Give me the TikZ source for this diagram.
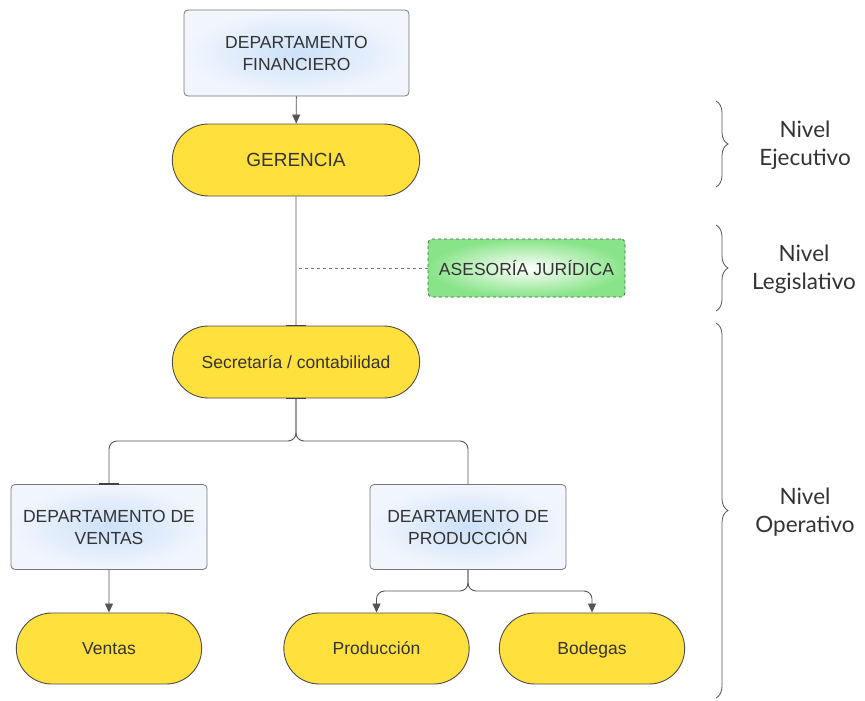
\documentclass[tikz,border=0pt]{standalone}
\usepackage{fontspec}
\setmainfont{Liberation Sans}
\newfontfamily\nivelfont{Lato}
\usetikzlibrary{arrows.meta,shapes.misc,decorations.pathreplacing}

\definecolor{linea}{HTML}{555555}
\definecolor{texto}{HTML}{333333}
\definecolor{amarillo}{HTML}{FFE03D}
\definecolor{azulin}{HTML}{CCE1FA}
\definecolor{azulout}{HTML}{F1F6FD}
\definecolor{verde}{HTML}{88E488}

\tikzset{
  dept/.style={rectangle, rounded corners=4pt, draw=linea!80, line width=.8pt,
    inner color=azulin, outer color=azulout, text=texto, align=center,
    minimum width=225pt, minimum height=86pt, font=\fontsize{17.5}{22}\selectfont},
  pill/.style={rounded rectangle, draw=linea!90!black, line width=.9pt,
    fill=amarillo, text=texto, minimum width=254pt, minimum height=72pt,
    text height=12.5pt, text depth=0pt, font=\fontsize{17.5}{20}\selectfont},
  asesor/.style={rectangle, rounded corners=4pt, draw=linea, dashed,
    line width=.8pt, inner color=white, outer color=verde, text=texto,
    minimum width=197pt, minimum height=58pt, font=\fontsize{17.5}{20}\selectfont},
  nivel/.style={align=center, text=texto, font=\nivelfont\fontsize{22.5}{28}\selectfont},
  llave/.style={draw=linea, line width=.8pt, decorate,
    decoration={brace, amplitude=12pt}},
  conn/.style={draw=linea, line width=.9pt},
  tope/.style={line width=1.6pt, linea!80!black},
}

\begin{document}
\begin{tikzpicture}[x=1pt, y=-1pt, >={Triangle[length=9pt,width=8pt]}]
\useasboundingbox (0,0) rectangle (865,701);

% cajas del organigrama
\node[dept] (fin) at (296.5,53) {DEPARTAMENTO\\FINANCIERO};
\node[pill, text height=13.6pt, font=\fontsize{19}{20}\selectfont] (ger) at (296,160) {GERENCIA};
\node[asesor] (ase) at (526.5,268) {ASESORÍA JURÍDICA};
\node[pill] (sec) at (296,362) {Secretaría / contabilidad};
\node[dept, minimum width=196pt, minimum height=85pt] (dven) at (109,527) {DEPARTAMENTO DE\\VENTAS};
\node[dept, minimum width=196pt, minimum height=85pt] (dprod) at (468,527) {DEARTAMENTO DE\\PRODUCCIÓN};
\node[pill, minimum width=192pt, minimum height=71pt] (ven) at (109,648.5) {Ventas};
\node[pill, minimum width=192pt, minimum height=71pt] (prod) at (376.5,648.5) {Producción};
\node[pill, minimum width=192pt, minimum height=71pt] (bod) at (592,648.5) {Bodegas};

% puntos de reparto
\coordinate (rep1) at (296,441);
\coordinate (rep2) at (468,591);

% conectores
\draw[conn,->] (fin) -- (ger);
\draw[conn] (ger) -- (sec);
\draw[tope] ([xshift=-10pt]sec.north) -- ([xshift=10pt]sec.north);
\draw[conn, dashed, draw=linea!80] (ase.west) -- (ase.west -| ger.south);
\draw[conn, rounded corners=8pt] (sec.south) -- (rep1) -| (dven);
\draw[conn, rounded corners=8pt] (sec.south) -- (rep1) -| (dprod);
\draw[tope] ([xshift=-10pt]sec.south) -- ([xshift=10pt]sec.south);
\draw[tope] ([xshift=-10pt]dven.north) -- ([xshift=10pt]dven.north);
\draw[conn,->] (dven) -- (ven);
\draw[conn,->, rounded corners=8pt] (dprod.south) -- (rep2) -| (prod);
\draw[conn,->, rounded corners=8pt] (dprod.south) -- (rep2) -| (bod);

% niveles
\draw[llave] (716,101) -- (716,187);
\draw[llave] (716,225) -- (716,311);
\draw[llave] (716,323) -- (716,698);
\node[nivel] (nej) at (805,145) {Nivel\\Ejecutivo};
\node[nivel] (nleg) at (804,269) {Nivel\\Legislativo};
\node[nivel] (nop) at (805,512) {Nivel\\Operativo};
\end{tikzpicture}
\end{document}
